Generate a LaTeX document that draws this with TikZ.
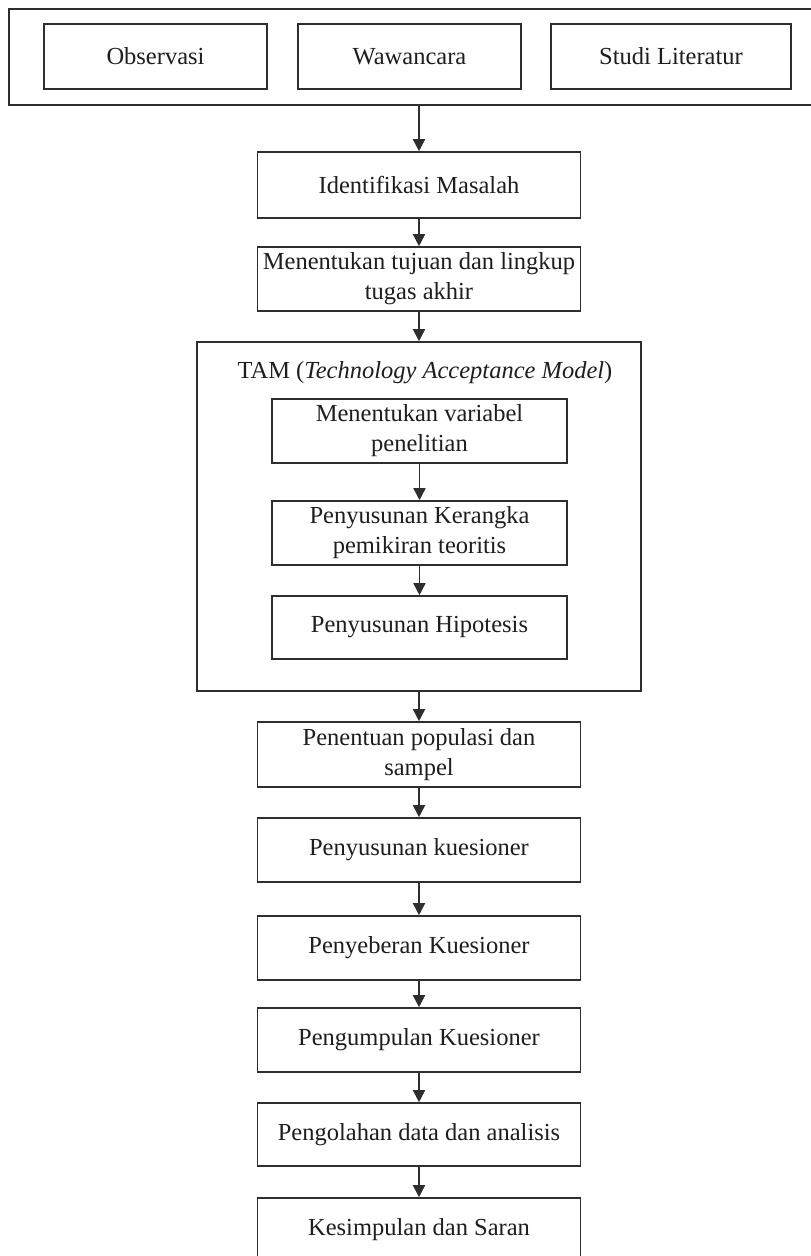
\documentclass[tikz,border=0pt]{standalone}
\usepackage{fontspec}
\setmainfont{Liberation Serif}
\usetikzlibrary{arrows.meta}
\definecolor{linecol}{HTML}{2E2E2E}
\definecolor{textcol}{HTML}{1E1E1E}
\begin{document}
\begin{tikzpicture}[x=1pt,y=1pt,
  box/.style={draw=linecol, line width=1.6pt, inner sep=0pt, align=center,
    font=\fontsize{24.5}{30}\selectfont, text=textcol},
  mainbox/.style={box, minimum width=323pt},
  innerbox/.style={box, minimum width=295pt},
  arr/.style={draw=linecol, line width=1.6pt, -{Triangle[width=12pt,length=12pt]}}]
\useasboundingbox (0,0) rectangle (811,-1256);
\clip (0,0) rectangle (811,-1256);
\fill[white] (0,0) rectangle (811,-1256);

% top group
\node[box, minimum width=840pt, minimum height=96pt, anchor=north west] (top) at (8,-8) {};
\node[box, minimum width=223pt, minimum height=65pt] (obs) at (155.5,-56.5) {Observasi};
\node[box, minimum width=223pt, minimum height=65pt] (waw) at (409.5,-56.5) {Wawancara};
\node[box, minimum width=240pt, minimum height=65pt] (stu) at (671,-56.5) {Studi Literatur};

% main column
\node[mainbox, minimum height=66pt] (idm) at (419,-185) {Identifikasi Masalah};
\node[mainbox, minimum height=64pt] (tuj) at (419,-279) {Menentukan tujuan dan lingkup\\tugas akhir};

% TAM group
\node[box, minimum width=444pt, minimum height=349pt] (tam) at (419,-516.5) {};
\node[font=\fontsize{24.5}{30}\selectfont, text=textcol, inner sep=0pt] (tamt) at (425,-373) {TAM (\textit{Technology Acceptance Model})};
\node[innerbox, minimum height=64pt] (var) at (419.5,-431) {Menentukan variabel\\penelitian};
\node[innerbox, minimum height=64pt] (ker) at (419.5,-533) {Penyusunan Kerangka\\pemikiran teoritis};
\node[innerbox, minimum height=63pt] (hip) at (419.5,-627.5) {Penyusunan Hipotesis};

% lower column
\node[mainbox, minimum height=65pt] (pen) at (419,-754.5) {Penentuan populasi dan\\sampel};
\node[mainbox, minimum height=64pt] (kue) at (419,-850) {Penyusunan kuesioner};
\node[mainbox, minimum height=64pt] (sey) at (419,-948) {Penyeberan Kuesioner};
\node[mainbox, minimum height=64pt] (kum) at (419,-1040) {Pengumpulan Kuesioner};
\node[mainbox, minimum height=63pt] (olah) at (419,-1134.5) {Pengolahan data dan analisis};
\node[mainbox, minimum height=64pt] (kes) at (419,-1230) {Kesimpulan dan Saran};

% connectors
\draw[arr] (idm.north |- top.south) -- (idm.north);
\draw[arr] (idm) -- (tuj);
\draw[arr] (tuj.south) -- (tuj.south |- tam.north);
\draw[arr] (var) -- (ker);
\draw[arr] (ker) -- (hip);
\draw[arr] (pen.north |- tam.south) -- (pen.north);
\draw[arr] (pen) -- (kue);
\draw[arr] (kue) -- (sey);
\draw[arr] (sey) -- (kum);
\draw[arr] (kum) -- (olah);
\draw[arr] (olah) -- (kes);
\end{tikzpicture}
\end{document}
